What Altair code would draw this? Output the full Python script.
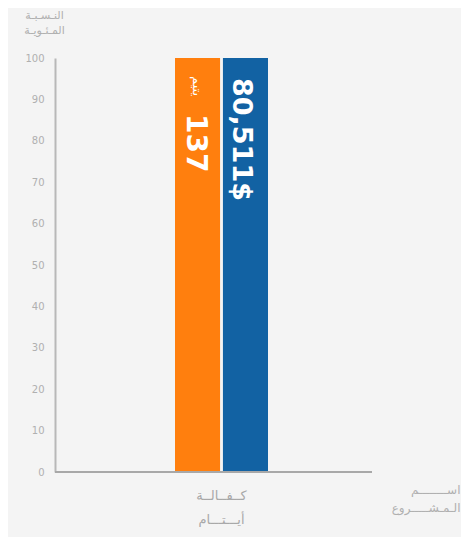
import altair as alt
import pandas as pd

categories = ["كــفــالــة أيـــتـــام"]
series = ["عدد الأيتام", "المبلغ"]
percent = [100, 100]
value_labels = ["137", "80,511$"]
unit_labels = ["يتيم", ""]
colors = ["#FF7F0E", "#1262A3"]
y_ticks = [0, 10, 20, 30, 40, 50, 60, 70, 80, 90, 100]
x_title = ["اســــــــم", "الـمـشـــــروع"]
y_title = ["النـسـبـة", "المـئـويـة"]

df = pd.DataFrame({
    "project": [categories[0]] * len(series),
    "series": series,
    "percent": percent,
    "label": value_labels,
    "unit": unit_labels,
})

FONT = "DejaVu Sans"
W, H = 317, 414

x_enc = alt.X("project:N",
              scale=alt.Scale(domain=categories, range=[120, 213], paddingInner=0, paddingOuter=0),
              axis=alt.Axis(title=x_title, domain=False, ticks=False, labelAngle=0,
                            labelExpr="split(datum.label, ' ')", labelFont=FONT, labelFontSize=13,
                            labelColor="#a8a8a8", labelLineHeight=24, labelPadding=17,
                            titleFont=FONT, titleFontSize=12, titleFontWeight="normal",
                            titleColor="#b0b0b0", titleAnchor="end", titleAlign="right",
                            titleBaseline="top", titleX=405, titleY=12, titleLineHeight=18))
xo_enc = alt.XOffset("series:N", scale=alt.Scale(domain=series, paddingInner=0.06, paddingOuter=0))
y_enc = alt.Y("percent:Q",
              scale=alt.Scale(domain=[0, 100], nice=False),
              axis=alt.Axis(values=y_ticks, title=y_title, grid=False, ticks=False,
                            domainColor="#b8b8b8", domainWidth=2, labelFont=FONT, labelFontSize=10,
                            labelColor="#b0b0b0", labelPadding=11,
                            titleAngle=0, titleFont=FONT, titleFontSize=11, titleFontWeight="normal",
                            titleColor="#b0b0b0", titleAlign="center", titleBaseline="top",
                            titleX=-11, titleY=-49, titleLineHeight=15))

bars = alt.Chart(df).mark_bar().encode(
    x=x_enc, xOffset=xo_enc, y=y_enc,
    color=alt.Color("series:N", scale=alt.Scale(domain=series, range=colors), legend=None),
)

blue_text = alt.Chart(df).transform_filter(alt.datum.series == series[1]).mark_text(
    angle=90, align="left", baseline="middle", dx=20, dy=4, font=FONT, fontWeight="bold",
    fontSize=27, color="white"
).encode(x=x_enc, xOffset=xo_enc, y=y_enc, text="label:N")

orange_text = alt.Chart(df).transform_filter(alt.datum.series == series[0]).mark_text(
    angle=90, align="left", baseline="middle", dx=56, dy=3, font=FONT, fontWeight="bold",
    fontSize=28, color="white"
).encode(x=x_enc, xOffset=xo_enc, y=y_enc, text="label:N")

unit_text = alt.Chart(df).transform_filter(alt.datum.series == series[0]).mark_text(
    angle=90, align="left", baseline="middle", dx=18, dy=1, font=FONT,
    fontSize=13, color="white"
).encode(x=x_enc, xOffset=xo_enc, y=y_enc, text="unit:N")

baseline = alt.Chart(df).mark_rule(color="#a8a8a8", strokeWidth=2).encode(
    x=alt.value(0), x2=alt.value(W), y=alt.value(H)
)

chart = alt.layer(bars, baseline, blue_text, orange_text, unit_text).properties(
    width=W, height=H,
    autosize=alt.AutoSizeParams(type="none"),
    padding={"left": 47, "top": 50, "right": 89, "bottom": 65},
    background="#f4f4f4",
).configure_view(stroke=None)

chart.save("out.html", embed_options={"renderer": "svg", "actions": False})
